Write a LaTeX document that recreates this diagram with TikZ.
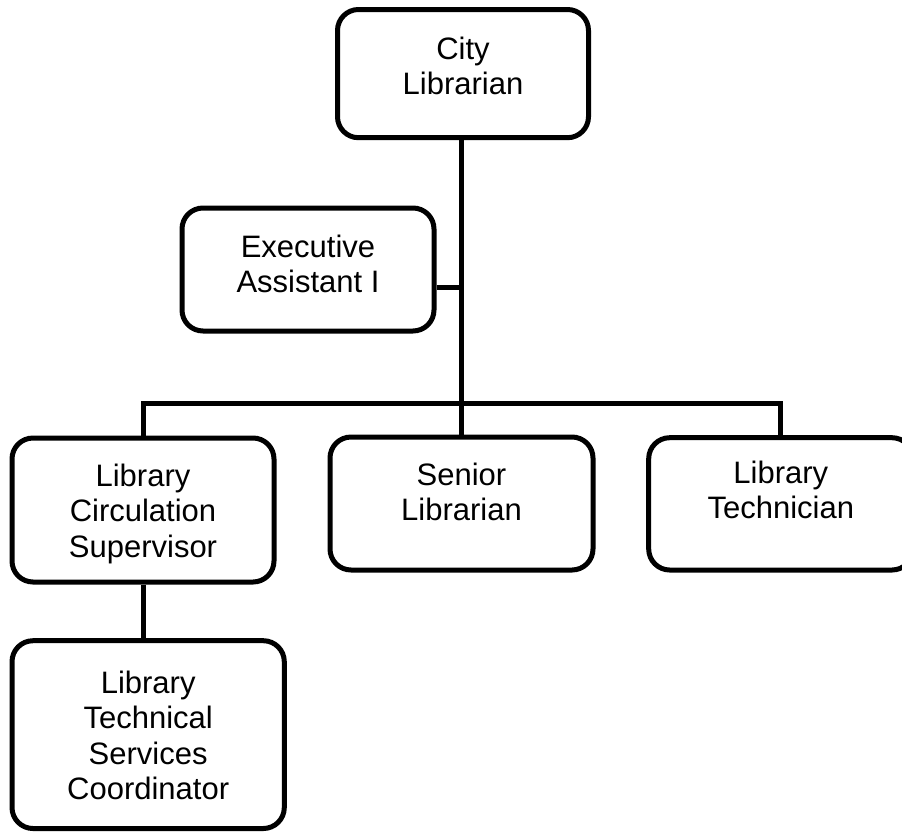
\documentclass[tikz,border=0pt]{standalone}
\usepackage{fontspec}
\setmainfont{Liberation Sans}
% centred stack of lines whose reference point is the first baseline
\newcommand\boxtext[1]{\begin{tabular}[t]{@{}c@{}}#1\end{tabular}}
\begin{document}
\begin{tikzpicture}[x=1pt,y=-1pt,
  orgbox/.style={draw=black, line width=5pt, rounded corners=21pt,
    inner sep=0pt, text height=0pt,
    font=\fontsize{31}{35.5}\selectfont},
  link/.style={draw=black, line width=5pt}]
\useasboundingbox (0,0) rectangle (902,831);
\clip (0,0) rectangle (902,831);

% positions
\node[orgbox, minimum width=251pt, minimum height=128.2pt, text depth=28.6pt]
  (city) at (463,73.6) {\boxtext{City\\Librarian}};
\node[orgbox, minimum width=252pt, minimum height=123pt, text depth=24.4pt]
  (exec) at (308,269.5) {\boxtext{Executive\\Assistant I}};
\node[orgbox, minimum width=262pt, minimum height=144pt, text depth=48pt]
  (circ) at (143,510) {\boxtext{Library\\Circulation\\Supervisor}};
\node[orgbox, minimum width=263pt, minimum height=133pt, text depth=37pt]
  (senior) at (461.5,503.5) {\boxtext{Senior\\Librarian}};
\node[orgbox, minimum width=264.3pt, minimum height=132.3pt, text depth=41.1pt]
  (tech) at (780.85,503.85) {\boxtext{Library\\Technician}};
\node[orgbox, minimum width=272.3pt, minimum height=187.8pt, text depth=82.6pt]
  (coord) at (148.15,734.6) {\boxtext{Library\\Technical\\Services\\Coordinator}};

% reporting lines
\coordinate (tap) at (462,287);
\coordinate (bar) at (462,403.5);
\draw[link] (senior.north |- city.south) -- (senior.north);
\draw[link] (exec.east |- tap) -- (tap);
\draw[link] (circ.north) |- (bar) -| (tech.north);
\draw[link] (circ.south) -- (coord.north -| circ.south);
\end{tikzpicture}
\end{document}
